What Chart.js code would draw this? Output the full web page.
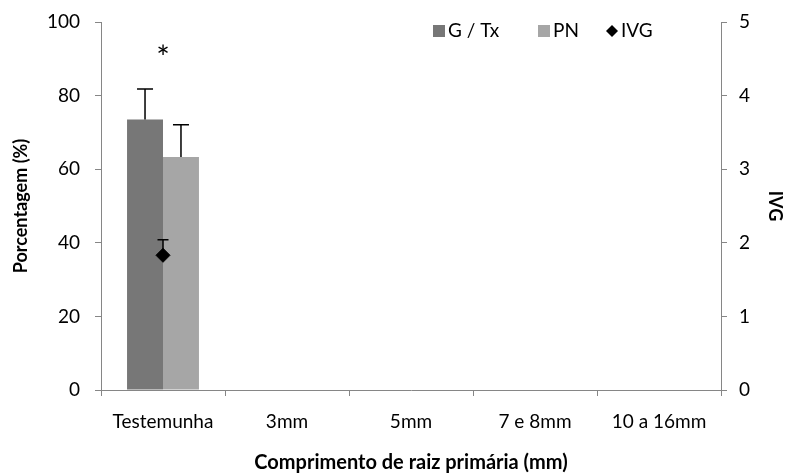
<!DOCTYPE html>
<html>
<head>
<meta charset="utf-8">
<script src="https://cdn.jsdelivr.net/npm/chart.js@4.4.1/dist/chart.umd.min.js"></script>
<style>
  html, body { margin: 0; padding: 0; background: #fff; }
  #wrap { width: 790px; height: 475px; }
</style>
</head>
<body>
<div id="wrap"><canvas id="c" width="790" height="475"></canvas></div>
<script>
// data
const categories = ['Testemunha', '3mm', '5mm', '7 e 8mm', '10 a 16mm'];
const gtx = [73.5, null, null, null, null];
const gtxErr = [8.3, null, null, null, null];
const pn = [63.3, null, null, null, null];
const pnErr = [8.8, null, null, null, null];
const ivg = [1.83, null, null, null, null];
const ivgErr = [0.21, null, null, null, null];
const signif = ['*', '', '', '', ''];

const FONT = 'Lato, "Open Sans", sans-serif';

// error bars: upward whisker with a cap
const errorBars = {
    id: 'errorBars',
    afterDatasetsDraw(chart) {
        const ctx = chart.ctx;
        ctx.save();
        ctx.strokeStyle = '#000';
        ctx.lineWidth = 1.5;
        chart.data.datasets.forEach((ds, di) => {
            if (!ds.errors) return;
            const meta = chart.getDatasetMeta(di);
            const scale = chart.scales[meta.yAxisID];
            meta.data.forEach((el, i) => {
                const v = ds.data[i], e = ds.errors[i];
                if (v == null || e == null) return;
                const y0 = scale.getPixelForValue(v);
                const y1 = scale.getPixelForValue(v + e);
                const half = ds.capWidth / 2;
                ctx.beginPath();
                ctx.moveTo(el.x, y0);
                ctx.lineTo(el.x, y1);
                ctx.moveTo(el.x - half, y1);
                ctx.lineTo(el.x + half, y1);
                ctx.stroke();
            });
        });
        // significance marks above the highest whisker in each category
        const x = chart.scales.x, y = chart.scales.y;
        ctx.fillStyle = '#000';
        ctx.font = '32px ' + FONT;
        ctx.textAlign = 'center';
        ctx.textBaseline = 'middle';
        signif.forEach((s, i) => {
            if (!s) return;
            const top = Math.max((gtx[i] || 0) + (gtxErr[i] || 0), (pn[i] || 0) + (pnErr[i] || 0));
            ctx.fillText(s, x.getPixelForValue(i), y.getPixelForValue(top) - 30);
        });
        ctx.restore();
    }
};

// legend drawn inside the plot, top right
const insideLegend = {
    id: 'insideLegend',
    afterDraw(chart) {
        const ctx = chart.ctx;
        const area = chart.chartArea;
        ctx.save();
        ctx.font = '19px ' + FONT;
        ctx.textBaseline = 'middle';
        const starts = [332, 437, 505];
        const y = area.top + 9;
        chart.data.datasets.forEach((ds, k) => {
            const x = area.left + starts[k];
            ctx.fillStyle = ds.backgroundColor;
            if (ds.type === 'line') {
                ctx.beginPath();
                ctx.moveTo(x + 6, y - 6);
                ctx.lineTo(x + 12, y);
                ctx.lineTo(x + 6, y + 6);
                ctx.lineTo(x, y);
                ctx.closePath();
                ctx.fill();
            } else {
                ctx.fillRect(x, y - 6, 12, 12);
            }
            ctx.fillStyle = '#000';
            ctx.fillText(ds.label, x + 15, y);
        });
        ctx.restore();
    }
};

new Chart(document.getElementById('c'), {
    type: 'bar',
    data: {
        labels: categories,
        datasets: [
            { label: 'G / Tx', data: gtx, errors: gtxErr, capWidth: 16, backgroundColor: '#777777', yAxisID: 'y', order: 2 },
            { label: 'PN', data: pn, errors: pnErr, capWidth: 16, backgroundColor: '#a6a6a6', yAxisID: 'y', order: 2 },
            { type: 'line', label: 'IVG', data: ivg, errors: ivgErr, capWidth: 11, backgroundColor: '#000', borderColor: '#000',
              showLine: false, pointStyle: 'rectRot', pointRadius: 7, yAxisID: 'y1', order: 1 },
        ],
    },
    options: {
        responsive: false,
        animation: false,
        layout: { padding: { left: 6, top: 22, right: 0, bottom: 0 } },
        datasets: { bar: { categoryPercentage: 0.58, barPercentage: 1.0 } },
        plugins: { legend: { display: false }, tooltip: { enabled: false } },
        scales: {
            x: {
                grid: { drawOnChartArea: false, offset: true, color: '#868686', tickLength: 6 },
                border: { color: '#868686', width: 1 },
                ticks: { color: '#000', font: { family: FONT, size: 19 }, padding: 14 },
                title: { display: true, text: 'Comprimento de raiz primária (mm)', color: '#000', font: { family: FONT, size: 20, weight: 'bold' }, padding: { top: 4, bottom: 0 } },
                afterFit: s => { s.height = 85; },
            },
            y: {
                position: 'left', min: 0, max: 100,
                ticks: { stepSize: 20, color: '#000', font: { family: FONT, size: 19 }, padding: 15 },
                grid: { drawOnChartArea: false, color: '#868686', tickLength: 6 },
                border: { color: '#868686', width: 1 },
                title: { display: true, text: 'Porcentagem (%)', color: '#000', font: { family: FONT, size: 18, weight: 'bold' } },
                afterFit: s => { s.width = 95; s.paddingTop = 4; },
            },
            y1: {
                position: 'right', min: 0, max: 5,
                ticks: { stepSize: 1, color: '#000', font: { family: FONT, size: 19 }, padding: 12 },
                grid: { drawOnChartArea: false, color: '#868686', tickLength: 6 },
                border: { color: '#868686', width: 1 },
                title: { display: true, text: 'IVG', color: '#000', font: { family: FONT, size: 18, weight: 'bold' } },
                afterFit: s => { s.width = 69; s.paddingTop = 4; },
            },
        },
    },
    plugins: [errorBars, insideLegend],
});
</script>
</body>
</html>
